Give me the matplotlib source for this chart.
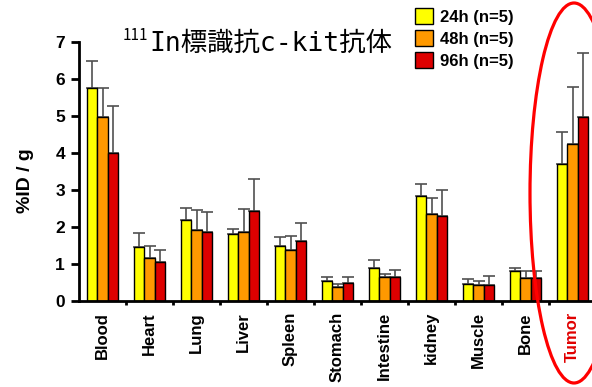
import matplotlib.pyplot as plt
import numpy as np
from matplotlib.patches import Ellipse, Patch

# Biodistribution of 111In-labelled anti c-kit antibody (%ID/g, mean with upper SD)
organs = ["Blood", "Heart", "Lung", "Liver", "Spleen", "Stomach",
          "Intestine", "kidney", "Muscle", "Bone", "Tumor"]
series_labels = ["24h (n=5)", "48h (n=5)", "96h (n=5)"]

mean_24h = [5.75, 1.45, 2.20, 1.80, 1.50, 0.55, 0.90, 2.83, 0.46, 0.80, 3.69]
mean_48h = [4.96, 1.15, 1.93, 1.87, 1.38, 0.37, 0.65, 2.36, 0.43, 0.62, 4.23]
mean_96h = [4.01, 1.05, 1.87, 2.42, 1.62, 0.50, 0.65, 2.30, 0.43, 0.62, 4.97]

top_24h = [6.49, 1.83, 2.52, 1.95, 1.72, 0.66, 1.10, 3.15, 0.59, 0.90, 4.57]
top_48h = [5.75, 1.50, 2.45, 2.50, 1.75, 0.46, 0.73, 2.79, 0.55, 0.80, 5.79]
top_96h = [5.28, 1.38, 2.40, 3.30, 2.10, 0.65, 0.84, 2.99, 0.68, 0.80, 6.71]

means = [mean_24h, mean_48h, mean_96h]
tops = [top_24h, top_48h, top_96h]
colors = ["#ffff00", "#ff9900", "#dd0000"]

W, H = 592, 387
fig = plt.figure(figsize=(W / 100, H / 100), dpi=100)
ax = fig.add_axes([79 / W, (H - 301) / H, (596 - 79) / W, (301 - 42) / H])

x = np.arange(len(organs))
bar_w = 0.22
for i in range(3):
    m = np.array(means[i])
    err = np.array(tops[i]) - m
    pos = x + (i - 1) * bar_w
    ax.bar(pos, m, width=bar_w, color=colors[i], edgecolor="black",
           linewidth=1.0, zorder=2)
    ax.errorbar(pos, m, yerr=[np.zeros_like(err), err], fmt="none",
                ecolor="#505050", elinewidth=1.2, capsize=4, capthick=1.2,
                zorder=1)

ax.set_xlim(-0.5, 10.5)
ax.set_ylim(0, 7)
ax.set_yticks(range(8))
ax.set_yticklabels([str(v) for v in range(8)], fontsize=12.5,
                   fontweight="bold", family="Liberation Sans")
ax.set_xticks(x)
ax.set_xticklabels(organs, rotation=90, fontsize=12, fontweight="bold",
                   family="Liberation Sans")
ax.get_xticklabels()[-1].set_color("#e00000")
ax.set_xticks(np.arange(0.5, 10, 1), minor=True)
ax.tick_params(axis="x", which="major", length=0, pad=8)
ax.tick_params(axis="x", which="minor", length=3, width=2, direction="out")
ax.tick_params(axis="y", length=6, width=2, direction="out", pad=4)

for s in ["top", "right"]:
    ax.spines[s].set_visible(False)
for s in ["left", "bottom"]:
    ax.spines[s].set_linewidth(2)

fig.text(25 / W, 1 - 181 / H, "%ID / g", rotation=90, ha="center",
         va="center", fontsize=14, fontweight="bold", family="Liberation Sans")

# title with superscript mass number; monospace Latin gives half-width letters
title_x, title_y = 149 / W, 1 - 51 / H
fig.text(title_x, title_y, "In標識抗c-kit抗体", ha="left", va="baseline",
         fontsize=19, family=["DejaVu Sans Mono", "Noto Sans CJK JP"])
fig.text(title_x - 1 / W, 1 - 40 / H, "111", ha="right", va="baseline",
         fontsize=11, family=["Noto Sans CJK JP", "DejaVu Sans"])

handles = [Patch(facecolor=c, edgecolor="black", linewidth=1.0) for c in colors]
fig.legend(handles, series_labels, loc="upper left",
           bbox_to_anchor=(415 / W, 1 - 8 / H), frameon=False,
           prop={"family": "Liberation Sans", "weight": "bold", "size": 12},
           handlelength=1.08, handleheight=1.08, handletextpad=0.45,
           labelspacing=0.33, borderpad=0, borderaxespad=0)

fig.add_artist(Ellipse((574 / W, 1 - 193 / H), 88 / W, 380 / H,
                       fill=False, edgecolor="#ff0000", linewidth=2.3,
                       transform=fig.transFigure, clip_on=False))

fig.savefig("out.png", dpi=100)
